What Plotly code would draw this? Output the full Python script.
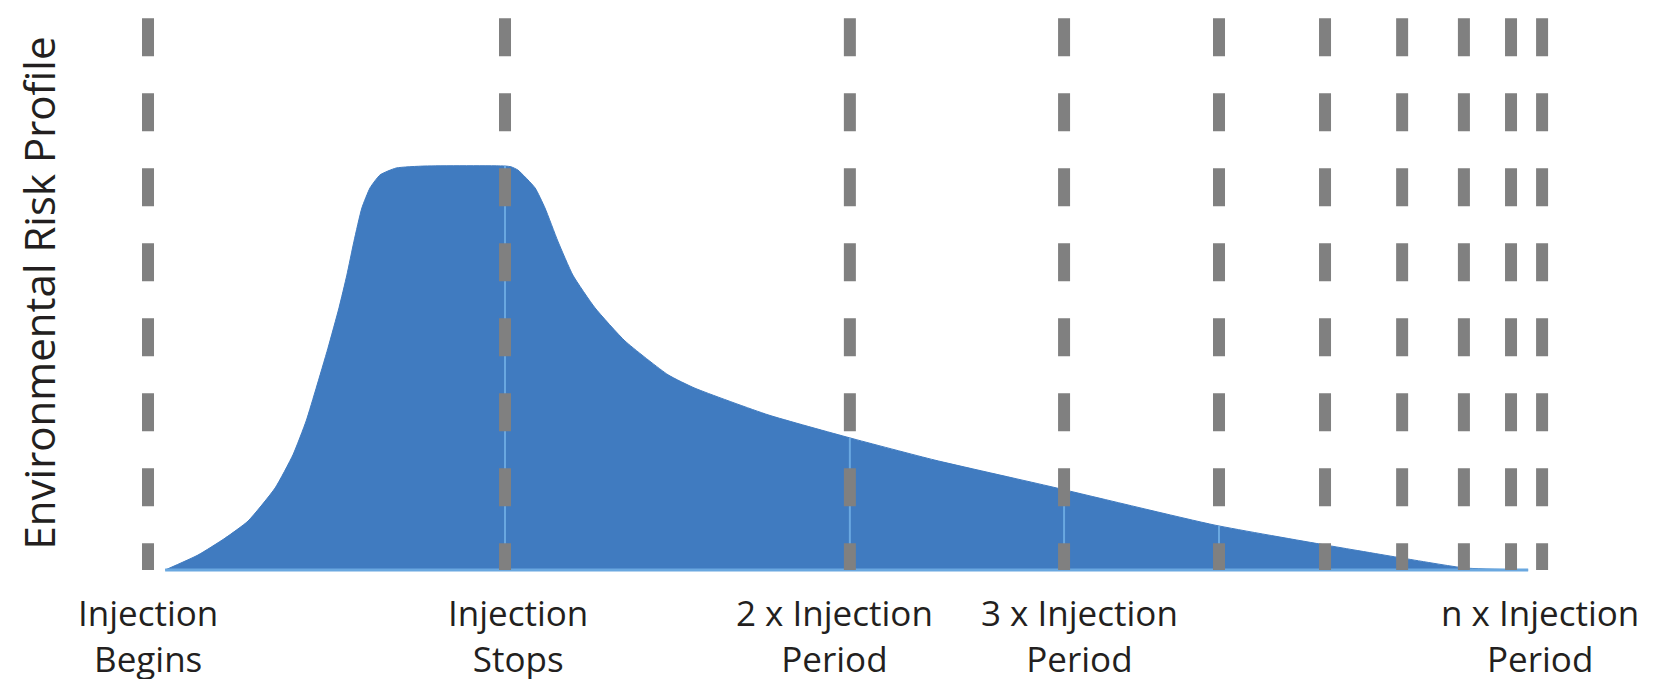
import numpy as np
import plotly.graph_objects as go

# Timeline position (1 unit = one injection period on the left part of the schematic)
curve_t = [0.048, 0.140, 0.216, 0.280, 0.356, 0.406, 0.443, 0.471, 0.504, 0.535, 0.557,
           0.577, 0.599, 0.622, 0.650, 0.695, 0.776, 1.000, 1.017, 1.036, 1.084, 1.112,
           1.148, 1.190, 1.252, 1.336, 1.457, 1.532, 1.737, 1.966, 2.204, 2.521, 2.989,
           3.297, 3.510, 3.689, 3.866]
curve_v = [0.0, 3.7, 7.9, 12.1, 20.3, 28.5, 36.9, 45.0, 54.9, 64.9, 73.0,
           81.4, 89.6, 94.6, 97.8, 99.5, 100.0, 100.0, 99.8, 99.0, 94.6, 89.6,
           81.4, 73.0, 64.9, 56.7, 48.3, 45.0, 38.4, 32.7, 27.2, 20.8, 11.1,
           6.2, 3.0, 0.5, 0.0]

dash_t = [0.0, 1.0, 1.966, 2.566, 3.0, 3.297, 3.513, 3.686, 3.818, 3.905]
dash_top = 136.6

label_text = ["Injection<br>Begins", "Injection<br>Stops", "2 x Injection<br>Period",
              "3 x Injection<br>Period", "n x Injection<br>Period"]
label_t = [0.0, 1.036, 1.923, 2.609, 3.900]
y_title = "Environmental Risk Profile"

FILL = "#407BC0"
LIGHT = "#6AA8E0"
GRAY = "#808080"
FONT = "Open Sans"
TXT = "#231F20"
W, H = 1661, 679

fig = go.Figure()

# risk profile area
fig.add_trace(go.Scatter(x=curve_t, y=curve_v, mode="lines", fill="tozeroy",
                         fillcolor=FILL, line=dict(color=FILL, width=1, shape="spline", smoothing=0.5),
                         hoverinfo="skip", showlegend=False))
# light baseline strip
fig.add_trace(go.Scatter(x=[curve_t[0], curve_t[-1]], y=[0, 0], mode="lines",
                         line=dict(color=LIGHT, width=3), hoverinfo="skip", showlegend=False))

# thin light lines inside area along each marker position
for t in dash_t:
    top = float(np.interp(t, curve_t, curve_v))
    if top > 0:
        fig.add_trace(go.Scatter(x=[t, t], y=[0, top], mode="lines",
                                 line=dict(color=LIGHT, width=2), hoverinfo="skip", showlegend=False))

# dashed grey markers
for t in dash_t:
    fig.add_trace(go.Scatter(x=[t, t], y=[dash_top, 0], mode="lines",
                             line=dict(color=GRAY, width=12, dash="38px,37px"),
                             hoverinfo="skip", showlegend=False))

for t, txt in zip(label_t, label_text):
    fig.add_annotation(x=t, xref="x", y=1 - 627 / H, yref="paper", text=txt, showarrow=False,
                       xanchor="center", yanchor="middle", align="center",
                       font=dict(family=FONT, size=35, color=TXT))

fig.add_annotation(x=0, xref="paper", y=1 - 285 / H, yref="paper", text=y_title,
                   textangle=-90, showarrow=False, xanchor="left", yanchor="middle",
                   borderpad=0, font=dict(family=FONT, size=42, color=TXT))

fig.update_layout(width=W, height=H, margin=dict(l=0, r=0, t=0, b=0),
                  paper_bgcolor="white", plot_bgcolor="white",
                  xaxis=dict(range=[-0.3922, 4.2605], visible=False, fixedrange=True),
                  yaxis=dict(range=[-28.96, 139.11], visible=False, fixedrange=True))

fig.write_html("out.html")
